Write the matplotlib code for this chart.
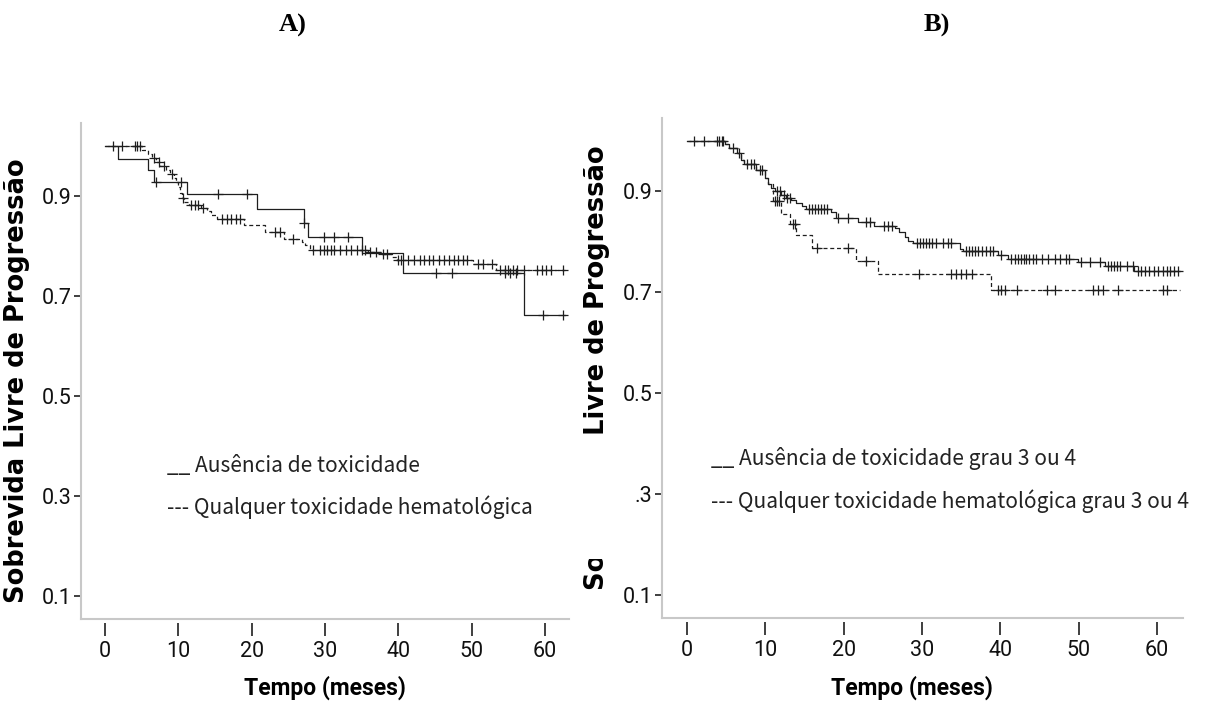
import numpy as np
import matplotlib
matplotlib.use("Agg")
import matplotlib.pyplot as plt
from matplotlib.patches import Rectangle

# ---------------- data ----------------
# Panel A
a_sol_t = [0, 1.7, 5.9, 6.6, 11.1, 20.7, 27.1, 27.7, 35.0, 40.6, 57.2, 62.8]
a_sol_s = [1.0, 0.975, 0.953, 0.929, 0.904, 0.875, 0.847, 0.819, 0.787, 0.747, 0.663, 0.663]
a_sol_c = [7.0, 10.4, 15.4, 19.3, 27.2, 29.9, 31.2, 33.2, 45.2, 47.4, 54.5, 55.3, 56.0, 59.7, 62.5]

a_das_t = [0, 5.0, 5.9, 6.4, 6.9, 7.5, 8.3, 8.9, 9.4, 9.7, 10.0, 10.2, 10.5, 10.8, 11.4,
           13.1, 13.9, 14.5, 15.2, 18.9, 21.8, 24.4, 26.9, 27.3, 28.0, 35.9, 37.6, 39.1,
           39.8, 50.2, 53.4, 62.8]
a_das_s = [1.0, 0.992, 0.984, 0.976, 0.968, 0.960, 0.952, 0.944, 0.936, 0.928, 0.918, 0.906,
           0.896, 0.888, 0.883, 0.877, 0.870, 0.862, 0.855, 0.842, 0.829, 0.815, 0.809, 0.802,
           0.793, 0.789, 0.785, 0.779, 0.772, 0.764, 0.753, 0.753]
a_das_c = [1.1, 2.3, 4.1, 4.4, 4.7, 6.6, 7.3, 8.0, 9.1, 10.6, 11.7, 12.2, 12.7, 13.3, 16.0,
           16.6, 17.2, 17.8, 18.4, 23.2, 23.8, 25.7, 28.3, 29.3, 29.8, 30.3, 30.8, 31.2, 32.1,
           32.9, 33.6, 34.3, 35.0, 35.4, 36.2, 36.9, 37.9, 38.4, 40.0, 40.4, 41.3, 42.1, 43.0,
           43.5, 44.2, 44.7, 45.5, 46.3, 46.9, 47.6, 48.2, 48.8, 49.4, 50.9, 51.6, 52.8, 53.9,
           54.5, 55.0, 55.6, 56.2, 57.1, 58.9, 59.6, 60.2, 60.9, 62.5]

# Panel B
b_sol_t = [0, 4.8, 5.4, 6.3, 6.9, 7.3, 8.8, 9.9, 10.3, 10.7, 11.2, 12.0, 12.6, 13.3, 13.9,
           14.6, 15.2, 18.4, 19.0, 21.8, 23.9, 26.5, 27.1, 27.8, 28.2, 28.8, 34.8, 35.2,
           39.7, 40.9, 49.9, 53.3, 57.1, 62.9]
b_sol_s = [1.0, 0.995, 0.986, 0.976, 0.962, 0.954, 0.943, 0.926, 0.914, 0.906, 0.900, 0.893,
           0.888, 0.883, 0.877, 0.872, 0.865, 0.859, 0.847, 0.839, 0.832, 0.827, 0.819, 0.810,
           0.802, 0.797, 0.786, 0.782, 0.774, 0.766, 0.761, 0.752, 0.743, 0.743]
b_sol_c = [0.9, 2.2, 3.8, 4.1, 4.4, 4.6, 5.8, 6.6, 7.6, 8.1, 8.5, 9.3, 9.6, 11.5, 11.9, 12.4,
           12.8, 13.1, 15.5, 15.9, 16.3, 16.7, 17.1, 17.5, 17.9, 19.3, 20.5, 22.8, 23.4, 25.1,
           25.7, 26.2, 29.3, 29.7, 30.1, 30.5, 30.9, 31.2, 31.8, 32.7, 33.3, 33.7, 35.6, 36.0,
           36.3, 36.7, 37.1, 37.6, 38.2, 38.6, 39.0, 40.1, 41.4, 41.8, 42.2, 42.6, 43.0, 43.3,
           43.7, 44.1, 44.5, 45.3, 46.1, 46.9, 47.6, 48.4, 48.8, 50.3, 51.4, 52.7, 53.7, 54.1,
           54.5, 54.9, 55.3, 56.1, 56.9, 57.5, 58.0, 58.5, 59.0, 59.6, 60.1, 60.7, 61.2, 61.7,
           62.2, 62.7]

b_das_t = [0, 4.8, 5.4, 6.3, 6.9, 7.3, 8.8, 9.9, 10.3, 10.9, 12.0, 13.1, 13.9, 15.9, 21.5,
           24.4, 38.8, 62.9]
b_das_s = [1.0, 0.995, 0.986, 0.976, 0.962, 0.954, 0.943, 0.926, 0.914, 0.881, 0.855, 0.835,
           0.814, 0.788, 0.762, 0.736, 0.704, 0.704]
b_das_c = [11.2, 11.5, 11.7, 13.5, 13.8, 16.6, 20.5, 22.8, 29.6, 33.7, 34.3, 35.0, 35.6, 36.3,
           39.7, 40.1, 40.6, 42.1, 45.9, 47.0, 51.8, 52.4, 53.1, 55.0, 60.8, 61.3]

x_ticks = [0, 10, 20, 30, 40, 50, 60]
y_ticks = [0.1, 0.3, 0.5, 0.7, 0.9]
a_ytick_labels = ["0.1", "0.3", "0.5", "0.7", "0.9"]
b_ytick_labels = ["0.1", ".3", "0.5", "0.7", "0.9"]

xlabel = "Tempo (meses)"
ylabel = "Sobrevida Livre de Progressão"
a_leg = ["__ Ausência de toxicidade", "--- Qualquer toxicidade hematológica"]
b_leg = ["__ Ausência de toxicidade grau 3 ou 4",
         "--- Qualquer toxicidade hematológica grau 3 ou 4"]

# ---------------- drawing ----------------
W, H = 1210, 704
fig = plt.figure(figsize=(W / 100, H / 100), dpi=100)
fig.patch.set_facecolor("white")

LINE = "#1e1e1e"
SPINE = "#c8c8c8"
TICKC = "#303030"
TICKFONT = ["Roboto", "DejaVu Sans"]
CJK = ["Noto Sans CJK JP", "DejaVu Sans"]


def px_axes(l, t, r, b):
    return fig.add_axes([l / W, 1 - b / H, (r - l) / W, (b - t) / H])


def km(ax, t, s, c, dashed):
    t = np.asarray(t, float)
    s = np.asarray(s, float)
    ls = (0, (3.2, 2.2)) if dashed else "-"
    ax.step(t, s, where="post", color=LINE, lw=0.9, ls=ls, zorder=3)
    c = np.asarray(c, float)
    idx = np.searchsorted(t, c, side="right") - 1
    ax.plot(c, s[idx], ls="none", marker="+", ms=6.5, mew=0.9, color=LINE, zorder=4)


def style(ax, xlim, ylim, ylabels, ylab_pos, xlab_pos):
    ax.set_xlim(*xlim)
    ax.set_ylim(*ylim)
    for sp in ("top", "right"):
        ax.spines[sp].set_visible(False)
    ax.spines["left"].set_color(SPINE)
    ax.spines["left"].set_linewidth(1.5)
    ax.spines["bottom"].set_position(("outward", 3))
    ax.spines["bottom"].set_visible(False)
    ax.plot([0, 1], [0, 0], transform=ax.transAxes, color=SPINE, lw=1.5,
            clip_on=False, zorder=1)
    ax.set_xticks(x_ticks)
    ax.set_yticks(y_ticks)
    ax.set_yticklabels(ylabels)
    ax.tick_params(axis="x", length=9, width=1.3, color=TICKC, pad=4, labelsize=15.5)
    ax.tick_params(axis="y", length=5, width=1.3, color=TICKC, pad=1.5, labelsize=15.5)
    for lab in ax.get_xticklabels() + ax.get_yticklabels():
        lab.set_family(TICKFONT)
        lab.set_color("#111111")
    ax.set_xlabel(xlabel, fontsize=16.5, fontweight="bold", family=TICKFONT)
    ax.xaxis.set_label_coords(*xlab_pos)
    ax.set_ylabel(ylabel, fontsize=18.5, fontweight="bold", family="DejaVu Sans")
    ax.yaxis.set_label_coords(*ylab_pos)


# Panel A
axA = px_axes(81, 123, 569, 619)
km(axA, a_sol_t, a_sol_s, a_sol_c, False)
km(axA, a_das_t, a_das_s, a_das_c, True)
style(axA, (-3.3, 63.3), (0.054, 1.046), a_ytick_labels,
      (-0.104, 0.48), (0.5, -0.115))

# Panel B
axB = px_axes(661.7, 118, 1183, 618)
km(axB, b_sol_t, b_sol_s, b_sol_c, False)
km(axB, b_das_t, b_das_s, b_das_c, True)
style(axB, (-3.25, 63.3), (0.0554, 1.0455), b_ytick_labels,
      (-0.099, 0.50), (0.48, -0.116))

# white box hiding middle of panel B y-label (as in the source figure)
fig.add_artist(Rectangle((566 / W, 1 - 559 / H), (624 - 566) / W, (559 - 434) / H,
                         transform=fig.transFigure, facecolor="white",
                         edgecolor="none", zorder=5))

# legend texts
for (x, y), txt in zip([(167, 466), (167, 507)], a_leg):
    fig.text(x / W, 1 - y / H, txt, ha="left", va="center", fontsize=15.1,
             family=CJK, color="#222222", zorder=6)
for (x, y), txt in zip([(711, 459), (711, 501)], b_leg):
    fig.text(x / W, 1 - y / H, txt, ha="left", va="center", fontsize=15.1,
             family=CJK, color="#222222", zorder=6)

# panel titles
fig.text(293 / W, 1 - 25 / H, "A)", ha="center", va="center", fontsize=19,
         fontweight="bold", family="Liberation Serif")
fig.text(937 / W, 1 - 25 / H, "B)", ha="center", va="center", fontsize=19,
         fontweight="bold", family="Liberation Serif")

fig.savefig("out.png", dpi=100, facecolor="white")
